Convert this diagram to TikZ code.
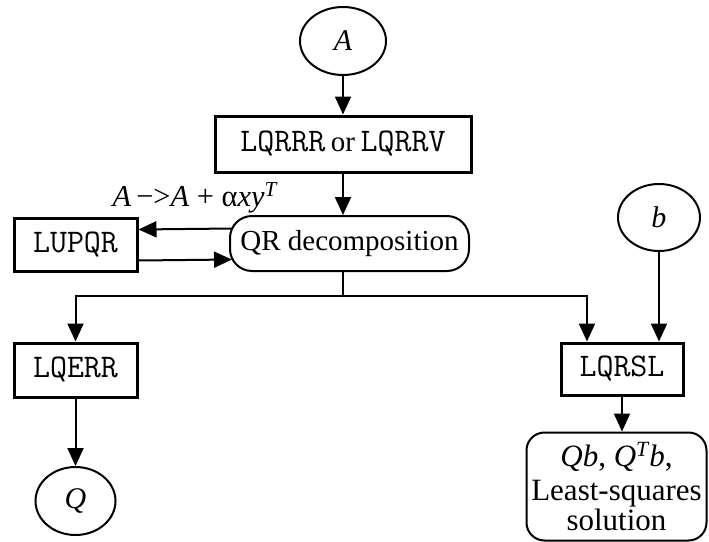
\documentclass[tikz,border=0pt]{standalone}
\usepackage{fontspec}
\setmainfont{Liberation Serif}
\usetikzlibrary{shapes.geometric,arrows.meta}

\begin{document}
\begin{tikzpicture}[x=0.5pt,y=-0.5pt]
  \tikzstyle{terminal}=[ellipse, draw, line width=1pt, inner sep=0pt,
    font=\fontsize{15}{17}\selectfont\itshape];
  \tikzstyle{routine}=[rectangle, draw, line width=1.5pt, inner sep=0pt,
    minimum width=61.5pt, minimum height=26.5pt,
    font=\fontsize{16.5}{17}\selectfont\ttfamily];
  \tikzstyle{process}=[rectangle, draw, line width=1pt, inner sep=0pt,
    align=center, font=\fontsize{14.5}{14.5}\selectfont];
  \tikzstyle{arr}=[-{Triangle[length=9pt,width=8pt]}, line width=1pt];
  \useasboundingbox (0,0) rectangle (709,542);

  \node[style=terminal, minimum width=43pt, minimum height=34pt] (A) at (343,41) {A};
  \node[style=routine, minimum width=128pt, minimum height=28pt] (lqrrr) at (343,144)
    {LQRRR\,{\rmfamily\fontsize{14.5}{17}\selectfont or}\,LQRRV};
  \node[style=process, rounded corners=11pt, minimum width=119.5pt,
    minimum height=27.5pt] (qr) at (349.5,243.5) {QR decomposition};
  \node[style=routine] (lupqr) at (75.5,244.5) {LUPQR};
  \node[font=\fontsize{15.2}{17}\selectfont] (upd) at (195,198)
    {\textit{A}\,−>\textit{A} + α\textit{xy}\textsuperscript{\itshape T}};
  \node[style=terminal, minimum width=41pt, minimum height=33.5pt] (b) at (659,217.5) {b};
  \node[style=routine, minimum height=27pt] (lqerr) at (75.5,370) {LQERR};
  \node[style=terminal, minimum width=40pt, minimum height=34pt] (Q) at (75.5,501) {Q};
  \node[style=routine, minimum width=61pt, minimum height=26pt] (lqrsl) at (622,369) {LQRSL};
  \node[style=process, rounded corners=9pt, minimum width=90pt, minimum height=54pt,
    font=\fontsize{15.5}{14}\selectfont] (res) at (616.5,486.5)
    {\textit{Qb}, \textit{Q\textsuperscript{T}b},\\[3pt] Least-squares\\ solution};
  \coordinate (split) at (343,296);

  \draw[style=arr] (A) -- (lqrrr);
  \draw[style=arr] (lqrrr.south -| split) -- (qr.north -| split);
  \draw[style=arr] ([yshift=7.5pt,xshift=1.5pt]qr.west) -- ([yshift=7.5pt]lupqr.east);
  \draw[style=arr] ([yshift=-8pt]lupqr.east) -- ([yshift=-8pt,xshift=1.5pt]qr.west);
  \draw[line width=1pt] (qr.south -| split) -- (split);
  \draw[style=arr] (split) -| (lqerr.north);
  \draw[style=arr] (split) -| ([xshift=-17.5pt]lqrsl.north);
  \draw[style=arr] (b) -- (b |- lqrsl.north);
  \draw[style=arr] (lqerr) -- (Q);
  \draw[style=arr] (lqrsl) -- (lqrsl |- res.north);
\end{tikzpicture}
\end{document}
